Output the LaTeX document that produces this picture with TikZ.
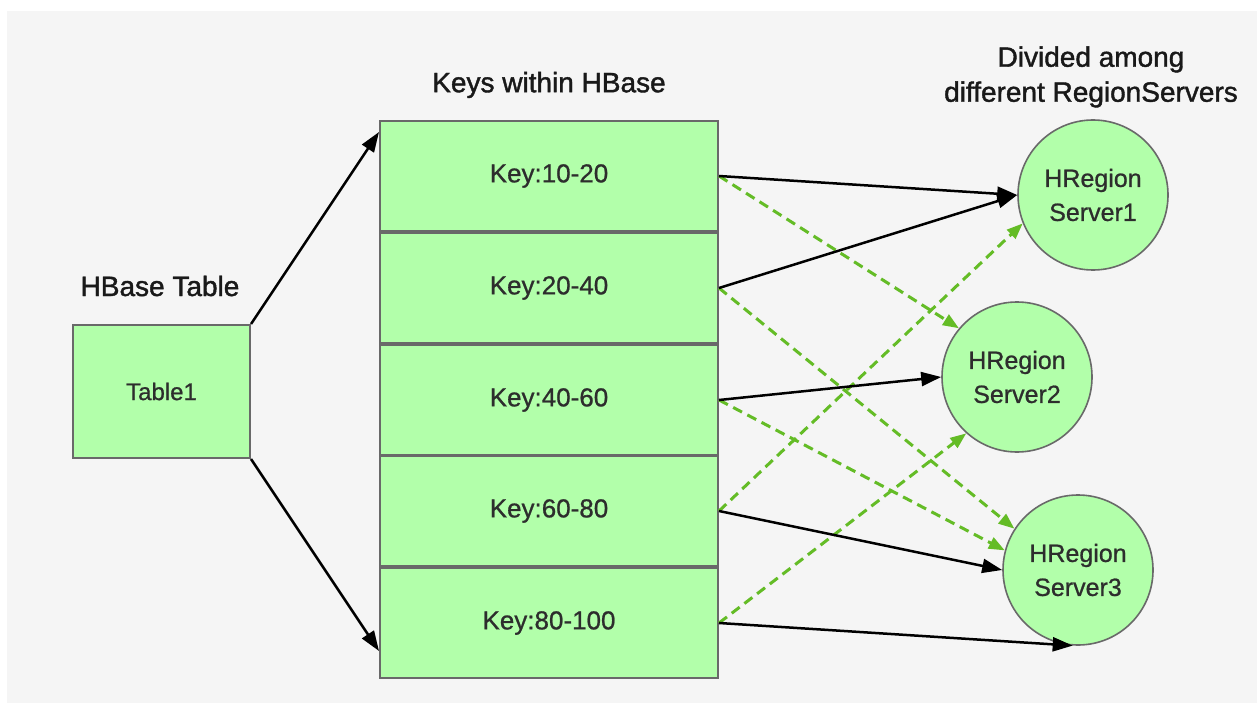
\documentclass[tikz,border=0pt]{standalone}
\usepackage{fontspec}
\setmainfont{Liberation Sans}
\newfontfamily\heavyfont[FakeBold=1.4]{Liberation Sans}
\newfontfamily\midfont[FakeBold=0.8]{Liberation Sans}
\usetikzlibrary{arrows.meta,calc}
\definecolor{boxfill}{RGB}{178,255,170}
\definecolor{boxline}{RGB}{105,105,105}
\definecolor{panel}{RGB}{245,245,245}
\definecolor{dgreen}{RGB}{100,188,38}
\definecolor{txt}{RGB}{45,45,45}
\tikzset{
  keybox/.style={draw=boxline, line width=2pt, fill=boxfill, minimum width=338pt, minimum height=110pt, inner sep=0pt, font=\midfont\fontsize{26}{30}\selectfont, text=txt},
  tablebox/.style={draw=boxline, line width=2pt, fill=boxfill, minimum width=177pt, minimum height=133pt, inner sep=0pt, font=\midfont\fontsize{24}{28}\selectfont, text=txt},
  server/.style={circle, draw=boxline, line width=1.6pt, fill=boxfill, minimum size=150pt, inner sep=0pt, align=center, font=\midfont\fontsize{25}{34}\selectfont, text=txt},
  title/.style={font=\heavyfont\fontsize{28}{35}\selectfont, text=black!90, align=center, inner sep=0pt},
  blackarrow/.style={draw=black, line width=2.5pt, -{Triangle[length=20pt,width=14pt]}},
  greenarrow/.style={draw=dgreen, line width=3pt, dash pattern=on 10pt off 6pt, -{Triangle[length=16pt,width=12pt]}},
}
\begin{document}
\begin{tikzpicture}[x=1pt,y=-1pt]
\useasboundingbox (0,0) rectangle (1257,703);
\fill[white] (0,0) rectangle (1257,703);
\fill[panel] (7,11) rectangle (1257,703);

% titles
\node[title] (t1) at (160,286) {HBase Table};
\node[title] (t2) at (549,85) {Keys within HBase};
\node[title] (t3) at (1091,77) {Divided among\\different RegionServers};

% table
\node[tablebox] (tab) at (161.5,391.5) {Table1};

% key boxes
\node[keybox] (k1) at (549,176) {Key:10-20};
\node[keybox] (k2) at (549,288) {Key:20-40};
\node[keybox] (k3) at (549,400) {Key:40-60};
\node[keybox] (k4) at (549,511) {Key:60-80};
\node[keybox] (k5) at (549,623) {Key:80-100};

% servers
\node[server] (s1) at (1093,195) {HRegion\\Server1};
\node[server] (s2) at (1017,377) {HRegion\\Server2};
\node[server] (s3) at (1078,570) {HRegion\\Server3};

% table to keys
\draw[blackarrow] (tab.north east) -- ($(k1.north west)+(0pt,-12pt)$);
\draw[blackarrow] (tab.south east) -- ($(k5.south west)+(0pt,28pt)$);

% green dashed
\draw[greenarrow] (k1.east) -- (s2.140);
\draw[greenarrow] (k2.east) -- (s3.147);
\draw[greenarrow] (k3.east) -- (s3.165);
\draw[greenarrow] (k4.east) -- (s1.202);
\draw[greenarrow] (k5.east) -- (s2.228);

% black arrows
\draw[blackarrow] (k1.east) -- (s1.180);
\draw[blackarrow] (k2.east) -- (s1.180);
\draw[blackarrow] (k3.east) -- (s2.180);
\draw[blackarrow] (k4.east) -- (s3.180);
\draw[blackarrow] (k5.east) -- (s3.266);
\end{tikzpicture}
\end{document}
